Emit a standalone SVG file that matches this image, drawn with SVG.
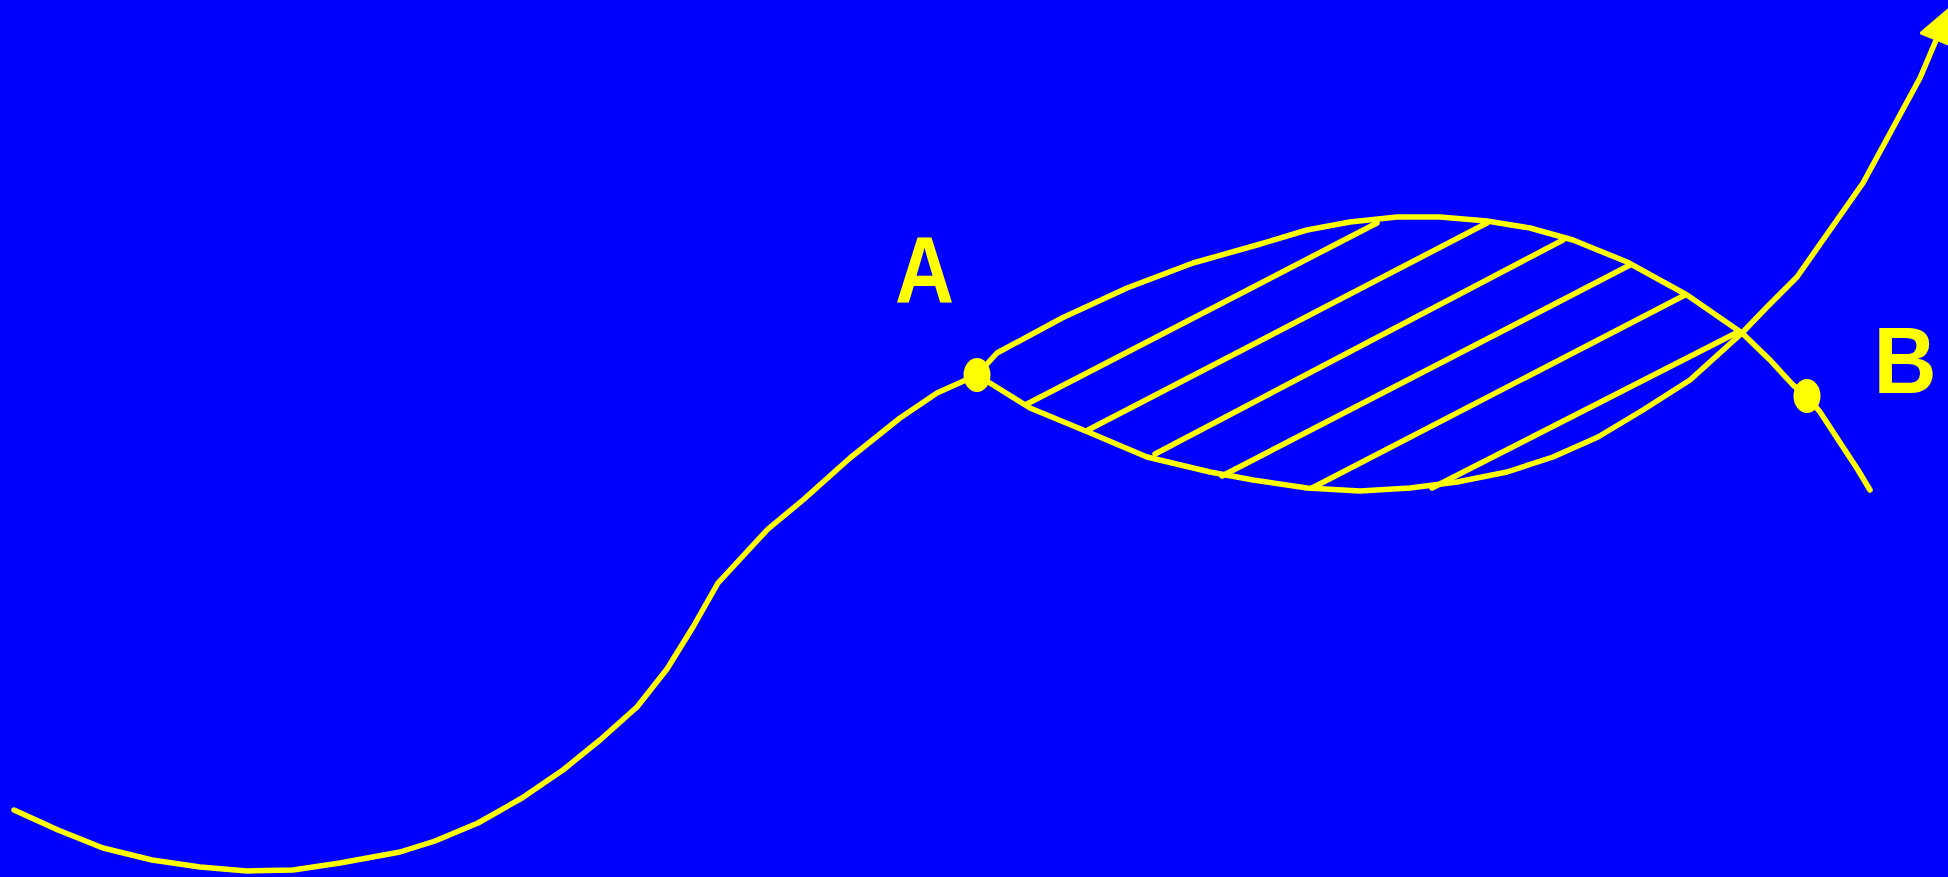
<svg xmlns="http://www.w3.org/2000/svg" width="1948" height="877" viewBox="0 0 1948 877">
<style>
.ln{fill:none;stroke:#FFFF00;stroke-width:5.5;stroke-linecap:round;stroke-linejoin:round}
.dot{fill:#FFFF00}
.lbl{font-family:"Liberation Sans",Arial,sans-serif;font-weight:bold;font-size:94px;fill:#FFFF00}
</style>
<rect x="0" y="0" width="1948" height="877" fill="#0000FF"/>
<g id="connectors">
<polyline id="curve1" class="ln" points="14,810 58,830 103,848 152,860 200,867 247,871 293,870 340,863 400,852 435,841 478,823 522,798 563,770 600,740 637,707 667,669 693,627 718,583 768,529 803,500 850,458 900,418 937,393 977,375 997,353 1062,318 1127,288 1193,263 1257,245 1307,230 1350,222 1397,217 1440,217 1487,221 1530,228 1573,240 1627,262 1687,295 1742,333 1770,360 1793,385 1807,396 1820,412 1858,470 1870,490"/>
<polyline id="curve2" class="ln" points="977,375 1030,408 1088,432 1147,457 1210,472 1253,480 1307,488 1360,491 1410,488 1457,482 1507,472 1553,457 1598,437 1643,410 1690,380 1742,333 1767,307 1797,277 1863,183 1920,78 1937,38"/>
<polygon id="arrowhead" class="dot" stroke="#FFFF00" stroke-width="4" stroke-linejoin="round" points="1922,33 1952,45 1949,10"/>
<g id="hatch">
<line class="ln" x1="1027" y1="404" x2="1377" y2="223"/>
<line class="ln" x1="1088" y1="430" x2="1487" y2="223"/>
<line class="ln" x1="1155" y1="454" x2="1563" y2="240"/>
<line class="ln" x1="1222" y1="476" x2="1630" y2="265"/>
<line class="ln" x1="1312" y1="488" x2="1685" y2="295"/>
<line class="ln" x1="1432" y1="488" x2="1738" y2="332"/>
</g>
</g>
<g id="nodeA">
<ellipse class="dot" cx="977" cy="375" rx="13.5" ry="17"/>
<g transform="translate(895,303) scale(0.87,1)"><text class="lbl" x="0" y="0">A</text></g>
</g>
<g id="nodeB">
<ellipse class="dot" cx="1807" cy="396" rx="13.5" ry="17"/>
<g transform="translate(1873.5,393) scale(0.93,1)"><text class="lbl" x="0" y="0">B</text></g>
</g>
</svg>
